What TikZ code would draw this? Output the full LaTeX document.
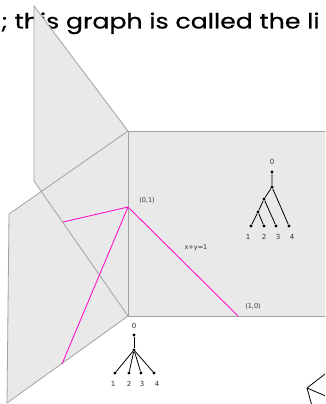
\documentclass[tikz,border=0pt]{standalone}
\usepackage{fontspec}
\newfontfamily\headfont{Poppins}[FakeBold=0.6]
\newfontfamily\labfont{DejaVu Sans}
\definecolor{panelfill}{HTML}{E9E9E9}
\definecolor{paneledge}{HTML}{A2A2A2}
\definecolor{pathpink}{RGB}{255,20,200}
\definecolor{labgray}{HTML}{333333}
\tikzset{
  panel/.style={fill=panelfill,draw=none},
  pedge/.style={draw=paneledge,line width=0.8pt},
  wall/.style={pathpink,line width=0.9pt},
  tdot/.style={circle,fill=black,inner sep=0pt,minimum size=3.2pt},
  tedge/.style={black,line width=0.8pt},
  tlab/.style={font=\labfont\fontsize{7}{8}\selectfont,text=labgray,inner sep=0pt},
  clab/.style={font=\labfont\fontsize{6.5}{7}\selectfont,text=labgray,inner sep=0pt},
}
\begin{document}
\begin{tikzpicture}[x=1pt,y=-1pt]
\useasboundingbox (0,0) rectangle (325,404);
\clip (0,0) rectangle (325,404);

% heading line, partly hidden behind the upper sheet
\node[anchor=base west,inner sep=0pt,xscale=1.2,font=\headfont\fontsize{21}{23}\selectfont] (head) at (1,28.5) {; this graph is called the li};

% corner points of the three sheets
\coordinate (top) at (128,131);
\coordinate (bot) at (128,316);
\coordinate (v01) at (128,207);
\coordinate (v10) at (238,316);

% sheets
\fill[panel] (34,6) -- (top) -- (bot) -- (34,181) -- cycle;
\fill[panel] (9,214) -- (top) -- (bot) -- (7,403) -- cycle;
\fill[panel] (top) -- (330,131) -- (330,316) -- (bot) -- cycle;

% sheet outlines
\draw[pedge] (34,181) -- (34,6) -- (top);
\draw[pedge] (34,181) -- (bot);
\draw[pedge] (7,403) -- (9,214) -- (top);
\draw[pedge] (7,403) -- (bot);
\draw[pedge] (330,131) -- (top) -- (bot) -- (330,316);

% walls of the tropical line
\coordinate (wa) at (63,222);
\coordinate (wb) at (62,364);
\draw[wall] (v01) -- (wa);
\draw[wall] (v01) -- (wb);
\draw[wall] (v01) -- (v10);

\node[clab] (l01) at (147,200) {(0,1)};
\node[clab] (l10) at (253,306) {(1,0)};
\node[clab] (lxy) at (196,248) {x+y=1};

% caterpillar tree on the right sheet
\node[tlab] (r0l) at (272,162) {0};
\node[tdot] (r0) at (272,172) {};
\node[tdot] (ra) at (272,187) {};
\node[tdot] (rb) at (264,199) {};
\node[tdot] (rc) at (258,212) {};
\node[tdot] (r1) at (251,226) {};
\node[tdot] (r2) at (264,226) {};
\node[tdot] (r3) at (276,226) {};
\node[tdot] (r4) at (289,226) {};
\draw[tedge] (r0) -- (ra) -- (rb) -- (rc) -- (r1);
\draw[tedge] (rc) -- (r2);
\draw[tedge] (rb) -- (r3);
\draw[tedge] (ra) -- (r4);
\node[tlab] (r1l) at (248,237) {1};
\node[tlab] (r2l) at (264,237) {2};
\node[tlab] (r3l) at (278,237) {3};
\node[tlab] (r4l) at (292,237) {4};

% star tree below the spine
\node[tlab] (s0l) at (134,326) {0};
\node[tdot] (s0) at (134,335) {};
\node[tdot] (sc) at (134,350) {};
\node[tdot] (s1) at (115,373) {};
\node[tdot] (s2) at (129,373) {};
\node[tdot] (s3) at (141,373) {};
\node[tdot] (s4) at (154,373) {};
\draw[tedge] (s0) -- (sc);
\foreach \k in {1,2,3,4} \draw[tedge] (sc) -- (s\k);
\node[tlab] (s1l) at (113,384) {1};
\node[tlab] (s2l) at (129,384) {2};
\node[tlab] (s3l) at (142,384) {3};
\node[tlab] (s4l) at (157,384) {4};

% edge of a further drawing in the corner
\coordinate (cv) at (307,388);
\draw[tedge] (cv) -- (325,374);
\draw[tedge] (cv) -- (328,397);
\draw[tedge] (cv) -- (312,406);
\end{tikzpicture}
\end{document}
